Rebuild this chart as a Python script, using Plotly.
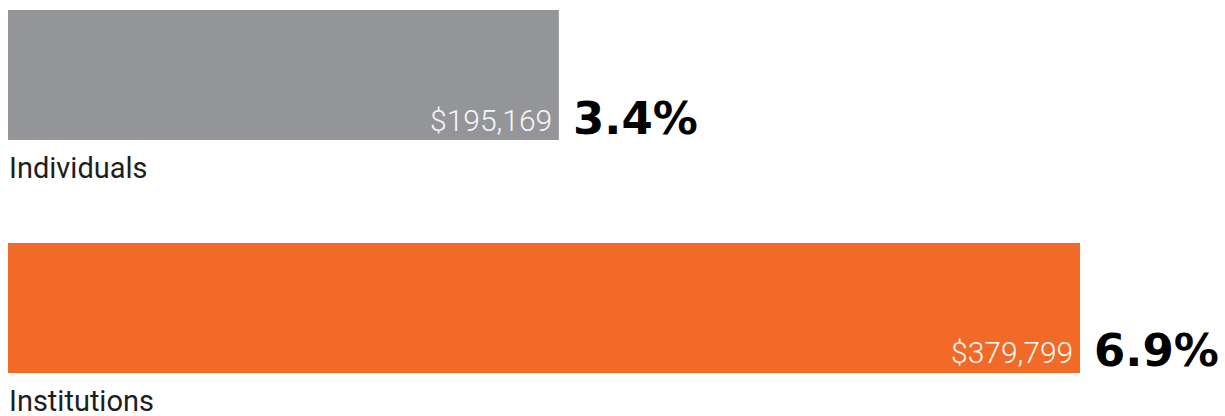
import plotly.graph_objects as go

categories = ["Individuals", "Institutions"]
amounts = [195169, 379799]
amount_labels = ["$195,169", "$379,799"]
pct_labels = ["3.4%", "6.9%"]
colors = ["#949598", "#F26A27"]

fig = go.Figure()
fig.add_trace(go.Bar(
    x=amounts,
    y=categories,
    orientation="h",
    marker=dict(color=colors, line=dict(width=0)),
    width=0.558,
    hoverinfo="skip",
))

annotations = []
for cat, val, amt, pct in zip(categories, amounts, amount_labels, pct_labels):
    annotations.append(dict(
        x=val, y=cat, xref="x", yref="y", text=amt, showarrow=False,
        xanchor="right", yanchor="middle", xshift=-5, yshift=-45,
        font=dict(family="Roboto", size=30, color="#F6F6F6", weight=300),
    ))
    annotations.append(dict(
        x=val, y=cat, xref="x", yref="y", text=pct, showarrow=False,
        xanchor="left", yanchor="middle", xshift=12, yshift=-43,
        font=dict(family="DejaVu Sans", size=45, color="#000000", weight="bold"),
    ))
    annotations.append(dict(
        x=0, y=cat, xref="x", yref="y", text=cat, showarrow=False,
        xanchor="left", yanchor="middle", xshift=-1, yshift=-93,
        font=dict(family="Roboto", size=29, color="#1E1E1E"),
    ))

fig.update_layout(
    width=1225, height=416,
    margin=dict(l=8, r=145, t=0, b=0),
    paper_bgcolor="white", plot_bgcolor="white",
    showlegend=False,
    xaxis=dict(range=[0, amounts[1]], visible=False, fixedrange=True),
    yaxis=dict(type="category", categoryarray=categories, range=[1.464, -0.322],
               visible=False, fixedrange=True),
    annotations=annotations,
)

fig.write_html("out.html")
